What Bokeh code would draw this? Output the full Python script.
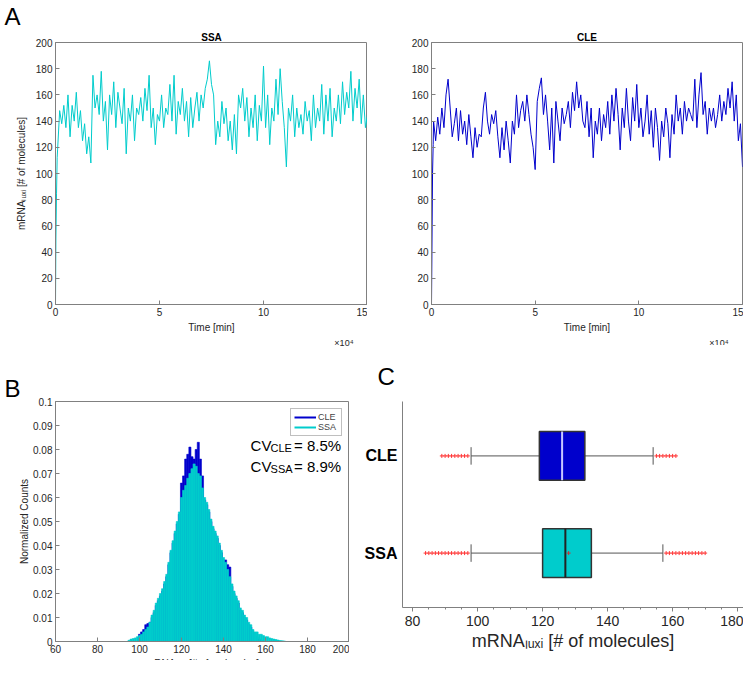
from bokeh.embed import file_html
from bokeh.resources import INLINE
from bokeh.layouts import column, row
from bokeh.models import Label, FixedTicker, Legend, LegendItem, Title
from bokeh.plotting import figure

# ---- data ----
time_start = [0, 200, 500, 800]
time_steady = list(range(1000, 150001, 1000))
time = time_start + time_steady

ssa_trace = [0, 50, 85, 112,
    118, 148, 138, 152, 135, 160, 128, 152, 140, 162,
    135, 148, 125, 138, 115, 128, 108, 175, 150, 160,
    145, 178, 140, 155, 118, 160, 145, 170, 135, 162,
    150, 138, 165, 115, 150, 140, 160, 125, 150, 145,
    158, 140, 165, 148, 175, 135, 150, 122, 145, 140,
    160, 135, 150, 145, 168, 140, 175, 130, 155, 145,
    165, 140, 155, 128, 158, 135, 150, 162, 140, 160,
    150, 165, 172, 186, 168, 160, 122, 140, 128, 155,
    138, 150, 125, 140, 118, 145, 115, 160, 150, 165,
    140, 158, 128, 150, 135, 160, 125, 152, 140, 182,
    135, 160, 122, 150, 140, 172, 145, 180, 155, 135,
    105, 150, 140, 160, 128, 150, 135, 145, 130, 155,
    140, 148, 125, 160, 135, 150, 140, 168, 130, 160,
    140, 165, 128, 150, 140, 160, 138, 170, 145, 162,
    150, 178, 140, 165, 150, 172, 138, 160, 135, 145]

cle_trace = [0, 40, 100, 122,
    140, 125, 143, 130, 150, 135, 160, 172, 150, 128,
    138, 150, 125, 148, 130, 140, 122, 145, 128, 112,
    135, 120, 130, 128, 150, 162, 140, 130, 145, 138,
    148, 128, 112, 135, 118, 140, 125, 108, 140, 130,
    160, 135, 148, 155, 140, 160, 145, 130, 120, 103,
    155, 165, 173, 145, 160, 140, 118, 150, 108, 155,
    140, 125, 150, 138, 145, 155, 135, 162, 148, 170,
    150, 160, 140, 135, 155, 128, 150, 112, 140, 130,
    150, 125, 145, 135, 155, 130, 160, 140, 165, 145,
    118, 150, 135, 165, 140, 125, 158, 140, 168, 135,
    150, 128, 140, 160, 130, 148, 120, 150, 135, 110,
    140, 128, 150, 138, 112, 145, 130, 160, 140, 150,
    130, 155, 140, 150, 145, 140, 172, 135, 160, 177,
    145, 155, 130, 150, 140, 150, 135, 145, 160, 140,
    155, 145, 165, 150, 170, 140, 160, 125, 138, 105]

hist_bins = list(range(95, 170))
ssa_hist = [0.0005, 0.001, 0.0012, 0.0015, 0.002, 0.0025, 0.003, 0.004, 0.005, 0.006,
    0.008, 0.011, 0.013, 0.016, 0.018, 0.020, 0.022, 0.025, 0.028, 0.033,
    0.038, 0.042, 0.046, 0.050, 0.054, 0.060, 0.063, 0.065, 0.068, 0.070,
    0.072, 0.074, 0.073, 0.070, 0.069, 0.064, 0.060, 0.058, 0.055, 0.051,
    0.048, 0.046, 0.044, 0.041, 0.038, 0.035, 0.033, 0.030, 0.027, 0.024,
    0.021, 0.019, 0.017, 0.014, 0.013, 0.011, 0.010, 0.008, 0.007, 0.005,
    0.004, 0.004, 0.003, 0.003, 0.0025, 0.002, 0.002, 0.0015, 0.0012, 0.001,
    0.0008, 0.0006, 0.0004, 0.0003, 0.0002]
cle_hist = [0, 0, 0, 0, 0, 0.003, 0.004, 0.005, 0.007, 0.0075,
    0.008, 0.010, 0.012, 0.015, 0.017, 0.019, 0.021, 0.024, 0.027, 0.032,
    0.037, 0.041, 0.045, 0.049, 0.053, 0.066, 0.069, 0.076, 0.078, 0.081,
    0.077, 0.076, 0.080, 0.083, 0.076, 0.069, 0.059, 0.057, 0.054, 0.050,
    0.047, 0.045, 0.043, 0.040, 0.037, 0.034, 0.034, 0.032, 0.031, 0.023,
    0.020, 0.018, 0.016, 0.013, 0.012, 0.010, 0.009, 0.007, 0.006, 0.004,
    0.003, 0.002, 0.001, 0.0005, 0, 0, 0, 0, 0, 0,
    0, 0, 0, 0, 0]

box_q1 = [120, 119]
box_median = [127, 126]
box_q3 = [135, 133]
box_low = [98, 98]
box_high = [157, 154]
ssa_outliers = [84, 85, 86, 87, 88, 89, 90, 91, 92, 93, 94, 95, 96, 97,
                158, 159, 160, 161, 162, 163, 164, 165, 166, 167, 168, 169, 170]
cle_outliers = [89, 90, 91, 92, 93, 94, 95, 96, 97,
                155, 156, 157, 158, 159, 160, 161]

SSA_C = "#00CCCC"
CLE_C = "#0000CC"
FONT = "Liberation Sans"
AX = "#262626"
MRNA_LABEL = "mRNAₗᵤₓᵢ [# of molecules]"


def style(p, size="10px"):
    for ax in p.axis:
        ax.major_label_text_font = FONT
        ax.major_label_text_font_size = size
        ax.major_label_text_color = AX
        ax.axis_label_text_font = FONT
        ax.axis_label_text_font_style = "normal"
        ax.axis_label_text_font_size = size
        ax.axis_label_text_color = AX
        ax.axis_line_color = "#808080"
        ax.major_tick_line_color = "#808080"
        ax.minor_tick_line_color = "#808080"
    p.grid.visible = False
    p.outline_line_color = "#808080"


def title(p, text, size, align="left", offset=0, standoff=0, bold=False, place="above"):
    p.add_layout(Title(text=text, align=align, offset=offset, standoff=standoff, text_font=FONT,
                       text_font_size=size, text_font_style="bold" if bold else "normal",
                       text_color="black" if place == "above" else AX), place)


def lab(p, x, y, text, size):
    p.add_layout(Label(x=x, y=y, text=text, text_font=FONT, text_font_size=size, text_color="black"))


def trace_panel(name, values, color, left, right, fw):
    p = figure(frame_width=fw, frame_height=262,
               min_border_left=left, min_border_right=right, min_border_top=40, min_border_bottom=8,
               x_range=(0, 150000), y_range=(0, 200), output_backend="svg", toolbar_location=None)
    p.line(time, values, line_color=color, line_width=1)
    p.xaxis.ticker = FixedTicker(ticks=[0, 50000, 100000, 150000])
    p.xaxis.major_label_overrides = {0: "0", 50000: "5", 100000: "10", 150000: "15"}
    p.yaxis.ticker = FixedTicker(ticks=list(range(0, 201, 20)))
    for ax in p.axis:
        ax.major_tick_in = 4
        ax.major_tick_out = 0
        ax.minor_tick_out = 0
        ax.major_label_standoff = 3
    p.xaxis.axis_label = "Time [min]"
    p.xaxis.axis_label_standoff = 3
    style(p)
    title(p, name, "10px", align="center", bold=True, standoff=0)
    title(p, "×10⁴", "9px", align="right", offset=14, standoff=0, place="below")
    return p


pa = trace_panel("SSA", ssa_trace, SSA_C, 55, 0, 312)
pb = trace_panel("CLE", cle_trace, CLE_C, 64, 1, 311)
title(pa, "A", "24px", offset=-51, standoff=0)
pa.yaxis.axis_label = MRNA_LABEL
pa.yaxis.axis_label_standoff = 6

# ---- panel B: histogram ----
ph = figure(frame_width=294, frame_height=240, min_border_left=55, min_border_right=0,
            min_border_top=28, min_border_bottom=44, x_range=(60, 200), y_range=(0, 0.1),
            output_backend="svg", toolbar_location=None)
ph.quad(left=[b - 0.5 for b in hist_bins], right=[b + 0.5 for b in hist_bins], bottom=0, top=cle_hist,
        fill_color=CLE_C, line_color=CLE_C, line_width=0.6)
ph.quad(left=[b - 0.5 for b in hist_bins], right=[b + 0.5 for b in hist_bins], bottom=0, top=ssa_hist,
        fill_color=SSA_C, line_color=SSA_C, line_width=0.6)
lc = ph.line([0, 0], [0, 0], line_color=CLE_C, line_width=2)
ls = ph.line([0, 0], [0, 0], line_color=SSA_C, line_width=2)
leg = Legend(items=[LegendItem(label="CLE", renderers=[lc]), LegendItem(label="SSA", renderers=[ls])],
             location="top_right", label_text_font=FONT, label_text_font_size="9px",
             glyph_height=10, glyph_width=22, label_height=10, spacing=0, padding=3, margin=7,
             border_line_color="#808080", label_standoff=2)
ph.add_layout(leg)
ph.xaxis.ticker = FixedTicker(ticks=list(range(60, 201, 20)))
ph.yaxis.ticker = FixedTicker(ticks=[i / 100 for i in range(11)])
ph.yaxis.major_label_overrides = {0: "0", 0.1: "0.1"}
ph.yaxis.axis_label = "Normalized Counts"
ph.yaxis.axis_label_standoff = 0
ph.xaxis.axis_label = "mRNAₗᵤₓᵢ [# of molecules]"
ph.xaxis.axis_label_standoff = 2
for ax in ph.axis:
    ax.major_tick_in = 4
    ax.major_tick_out = 0
    ax.minor_tick_out = 0
    ax.major_label_standoff = 3
style(ph)
title(ph, "B", "24px", offset=-51, standoff=0)
for yb, sub, val in [(0.0782, "CLE", "= 8.5%"), (0.0694, "SSA", "= 8.9%")]:
    lab(ph, 152.9, yb, "CV", "15px")
    lab(ph, 162.4, yb, sub, "11px")
    lab(ph, 173.6, yb, val, "15px")

# ---- panel C: box plot ----
pc = figure(frame_width=341, frame_height=206, min_border_left=53, min_border_right=0,
            min_border_top=54, min_border_bottom=52, x_range=(76.9, 181.8), y_range=(0.44, 2.56),
            output_backend="svg", toolbar_location=None)
ys = [1, 2]
pc.segment(x0=box_low, y0=ys, x1=box_q1, y1=ys, line_color="#555555", line_width=1)
pc.segment(x0=box_q3, y0=ys, x1=box_high, y1=ys, line_color="#555555", line_width=1)
pc.segment(x0=box_low, y0=[y - 0.09 for y in ys], x1=box_low, y1=[y + 0.09 for y in ys], line_color="#555555")
pc.segment(x0=box_high, y0=[y - 0.09 for y in ys], x1=box_high, y1=[y + 0.09 for y in ys], line_color="#555555")
pc.hbar(y=ys, left=box_q1, right=box_q3, height=0.5, fill_color=[SSA_C, CLE_C], line_color="#333333", line_width=1.5)
pc.segment(x0=box_median, y0=[y - 0.25 for y in ys], x1=box_median, y1=[y + 0.25 for y in ys],
           line_color=["#222222", "#c8c8ff"], line_width=2)
pc.scatter(ssa_outliers, [1] * len(ssa_outliers), marker="cross", size=4, line_color="#ff3333")
pc.scatter(cle_outliers, [2] * len(cle_outliers), marker="cross", size=4, line_color="#ff3333")
pc.scatter([128], [1], marker="cross", size=4, line_color="#cc3333")
pc.xaxis.ticker = FixedTicker(ticks=list(range(80, 181, 20)), minor_ticks=list(range(80, 181, 5)))
pc.yaxis.ticker = FixedTicker(ticks=ys)
pc.yaxis.major_label_overrides = {1: "SSA", 2: "CLE"}
style(pc, "14px")
pc.outline_line_color = None
pc.yaxis.major_tick_out = 0
pc.yaxis.major_tick_in = 0
pc.yaxis.minor_tick_out = 0
pc.yaxis.major_label_text_font_size = "16px"
pc.yaxis.major_label_text_font_style = "bold"
pc.yaxis.major_label_text_color = "black"
pc.yaxis.major_label_standoff = 5
pc.xaxis.major_tick_out = 4
pc.xaxis.major_tick_in = 0
pc.xaxis.minor_tick_out = 2
pc.xaxis.minor_tick_in = 0
pc.xaxis.major_label_standoff = 4
pc.xaxis.axis_label = MRNA_LABEL
pc.xaxis.axis_label_text_font_size = "18px"
pc.xaxis.axis_label_standoff = 2
title(pc, "C", "24px", offset=-25, standoff=24)

p = column(row(pa, pb), row(ph, pc), spacing=0)
open("out.html", "w").write(file_html(p, INLINE))
